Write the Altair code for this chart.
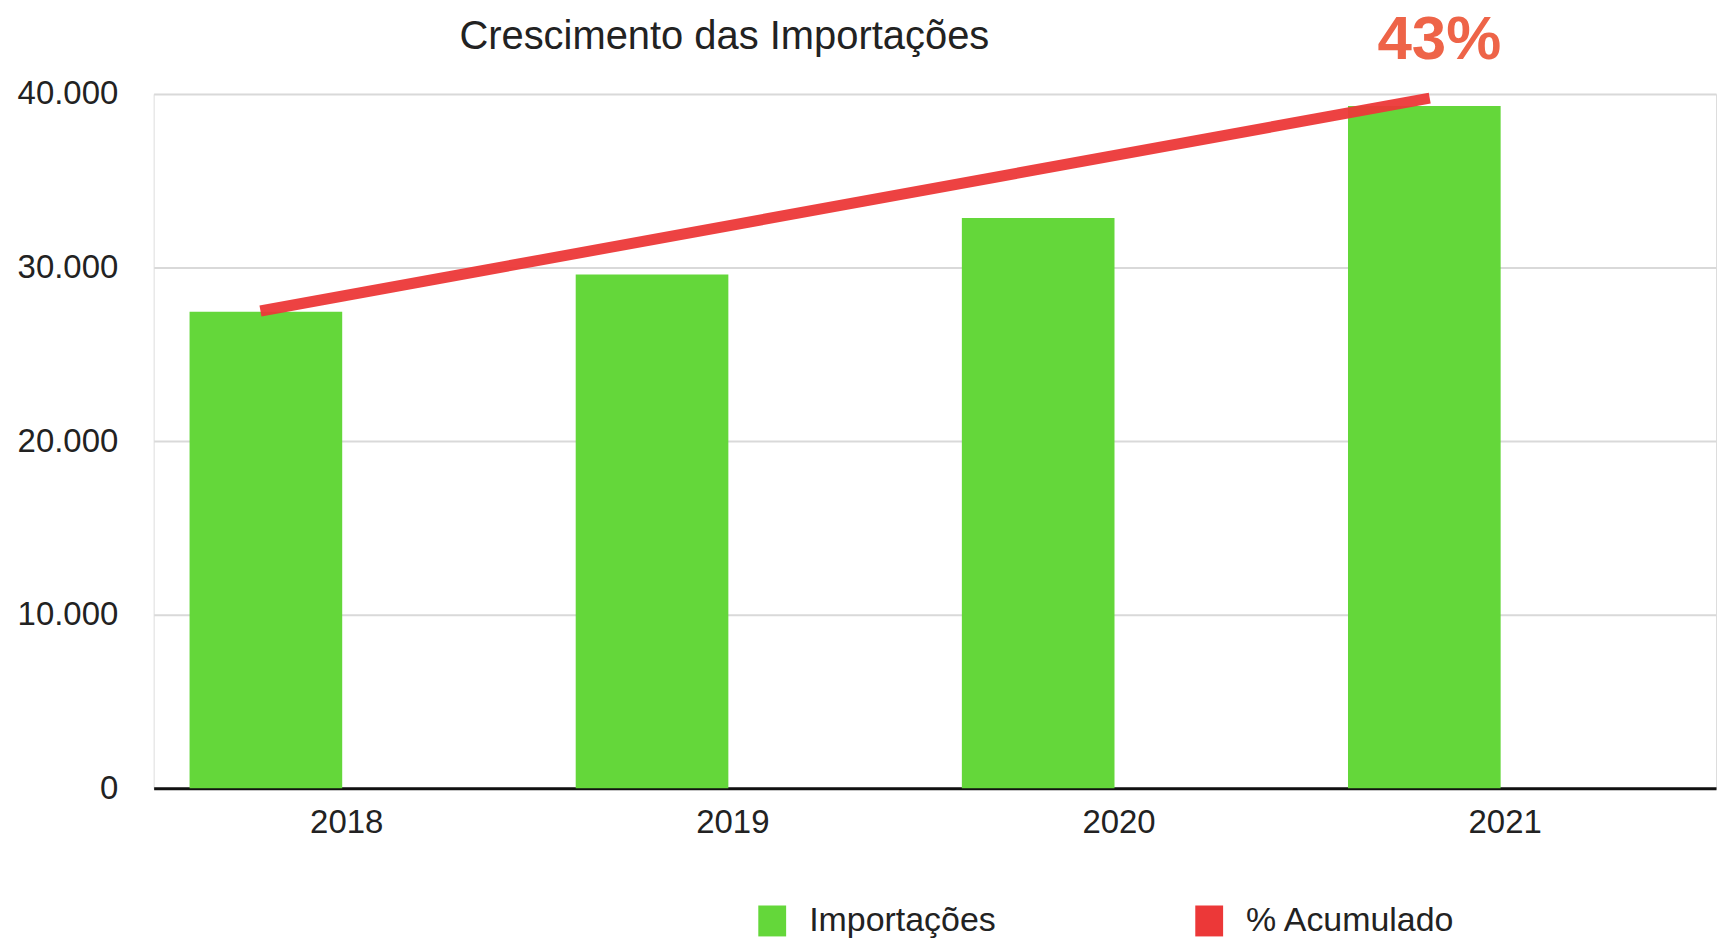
import altair as alt
import pandas as pd

# ---- data ----
years = ["2018", "2019", "2020", "2021"]
importacoes = [27450, 29600, 32850, 39300]
series_names = ["Importações", "% Acumulado"]
series_colors = ["#64D73A", "#EC3838"]

# hand-drawn "% Acumulado" trend stroke (start / end)
trend_years = ["2018", "2021"]
trend_values = [27550, 39700]

ann_year = ["2021"]
ann_value = [39700]
ann_text = ["43%"]

bars = pd.DataFrame({"ano": years, "valor": importacoes, "serie": series_names[0], "slot": series_names[0]})
trend = pd.DataFrame({"ano": trend_years, "valor": trend_values, "serie": series_names[1], "slot": series_names[0]})
ann = pd.DataFrame({"ano": ann_year, "valor": ann_value, "txt": ann_text, "slot": series_names[0]})

FONT = "Liberation Sans"

x_enc = alt.X("ano:N", title=None,
              scale=alt.Scale(domain=years, paddingInner=0, paddingOuter=0.023, align=0),
              axis=alt.Axis(labelAngle=0, labelFontSize=33, labelColor="#222222", labelFont=FONT,
                            labelPadding=18, ticks=False, domainColor="#111111", domainWidth=3,
                            grid=False))
y_enc = alt.Y("valor:Q", title=None,
              scale=alt.Scale(domain=[0, 40000], nice=False),
              axis=alt.Axis(values=[0, 10000, 20000, 30000, 40000],
                            labelExpr="replace(datum.label, ',', '.')",
                            labelFontSize=33, labelColor="#222222", labelFont=FONT,
                            labelPadding=36, ticks=False, domain=False,
                            gridColor="#d9d9d9", gridWidth=2,
                            minExtent=139, maxExtent=139))
xoff = alt.XOffset("slot:N", scale=alt.Scale(domain=series_names, paddingInner=0.056, paddingOuter=0.222))

color_scale = alt.Scale(domain=series_names, range=series_colors)

bar_layer = alt.Chart(bars).mark_bar().encode(
    x=x_enc, y=y_enc, xOffset=xoff,
    color=alt.Color("serie:N", scale=color_scale, title=None,
                    legend=alt.Legend(orient="none", direction="horizontal",
                                      legendX=603, legendY=812,
                                      symbolType="M-0.9,-1H0.9V1H-0.9Z",
                                      symbolSize=961, symbolStrokeWidth=0,
                                      labelFontSize=34, labelFont=FONT, labelColor="#222222",
                                      labelOffset=20, columnPadding=196, padding=0,
                                      labelLimit=400)),
)

line_layer = alt.Chart(trend).mark_line(strokeWidth=11, strokeCap="square", opacity=0.95).encode(
    x=alt.X("ano:N"), y=alt.Y("valor:Q"), xOffset=alt.XOffset("slot:N"),
    color=alt.Color("serie:N", scale=color_scale, legend=None),
)

text_layer = alt.Chart(ann).mark_text(fontSize=62, fontWeight="bold", font=FONT,
                                      color="#EE6448", baseline="alphabetic",
                                      align="center", dy=-40, dx=15).encode(
    x=alt.X("ano:N"), y=alt.Y("valor:Q"), xOffset=alt.XOffset("slot:N"), text="txt:N",
)

chart = alt.layer(bar_layer, line_layer, text_layer).properties(
    width=1566, height=696,
    padding={"left": 7, "top": 0, "right": 5, "bottom": 5},
    title=alt.TitleParams("Crescimento das Importações", fontSize=40, font=FONT,
                          fontWeight="normal", color="#222222", anchor="middle",
                          frame="group", dx=-211, offset=-48),
).configure_view(stroke=None).configure(background="white")

chart.save("out.html", embed_options={"renderer": "svg", "actions": False})
